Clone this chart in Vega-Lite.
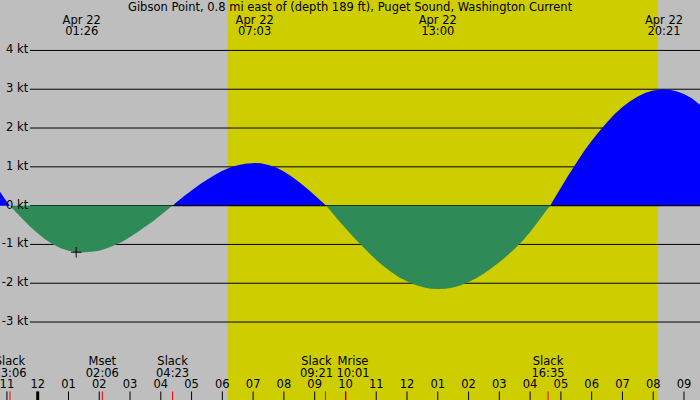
{
  "$schema": "https://vega.github.io/schema/vega-lite/v6.json",
  "width": 700,
  "height": 400,
  "autosize": {"type": "none"},
  "padding": 0,
  "background": "#bebebe",
  "config": {
    "view": {"stroke": null, "fill": "#bebebe"},
    "text": {"font": "DejaVu Sans", "fontSize": 11.5, "color": "#000000"}
  },
  "datasets": {
    "day": [{"sunrise": 6.17, "sunset": 20.15}],
    "grid": [
      {"kt": 4, "lab": "4 kt"},
      {"kt": 3, "lab": "3 kt"},
      {"kt": 2, "lab": "2 kt"},
      {"kt": 1, "lab": "1 kt"},
      {"kt": 0, "lab": "0 kt"},
      {"kt": -1, "lab": "-1 kt"},
      {"kt": -2, "lab": "-2 kt"},
      {"kt": -3, "lab": "-3 kt"}
    ],
    "zero": [
      {"from": 4.38, "to": 9.37},
      {"from": 16.65, "to": 21.52}
    ],
    "curve": [
      {"h": -1.225, "kt": 0.36, "seg": 0, "dir": "flood"},
      {"h": -1.05, "kt": 0.15, "seg": 0, "dir": "flood"},
      {"h": -0.9, "kt": 0, "seg": 0, "dir": "flood"},
      {"h": -0.9, "kt": 0, "seg": 1, "dir": "ebb"},
      {"h": -0.75, "kt": -0.13, "seg": 1, "dir": "ebb"},
      {"h": -0.5, "kt": -0.34, "seg": 1, "dir": "ebb"},
      {"h": -0.25, "kt": -0.54, "seg": 1, "dir": "ebb"},
      {"h": 0, "kt": -0.71, "seg": 1, "dir": "ebb"},
      {"h": 0.25, "kt": -0.87, "seg": 1, "dir": "ebb"},
      {"h": 0.5, "kt": -1.0, "seg": 1, "dir": "ebb"},
      {"h": 0.75, "kt": -1.1, "seg": 1, "dir": "ebb"},
      {"h": 1.0, "kt": -1.16, "seg": 1, "dir": "ebb"},
      {"h": 1.25, "kt": -1.2, "seg": 1, "dir": "ebb"},
      {"h": 1.43, "kt": -1.21, "seg": 1, "dir": "ebb"},
      {"h": 1.75, "kt": -1.19, "seg": 1, "dir": "ebb"},
      {"h": 2.0, "kt": -1.16, "seg": 1, "dir": "ebb"},
      {"h": 2.25, "kt": -1.1, "seg": 1, "dir": "ebb"},
      {"h": 2.5, "kt": -1.02, "seg": 1, "dir": "ebb"},
      {"h": 2.75, "kt": -0.93, "seg": 1, "dir": "ebb"},
      {"h": 3.0, "kt": -0.81, "seg": 1, "dir": "ebb"},
      {"h": 3.25, "kt": -0.68, "seg": 1, "dir": "ebb"},
      {"h": 3.5, "kt": -0.54, "seg": 1, "dir": "ebb"},
      {"h": 3.75, "kt": -0.4, "seg": 1, "dir": "ebb"},
      {"h": 4.0, "kt": -0.24, "seg": 1, "dir": "ebb"},
      {"h": 4.25, "kt": -0.08, "seg": 1, "dir": "ebb"},
      {"h": 4.38, "kt": 0, "seg": 1, "dir": "ebb"},
      {"h": 4.38, "kt": 0, "seg": 2, "dir": "flood"},
      {"h": 4.5, "kt": 0.08, "seg": 2, "dir": "flood"},
      {"h": 4.75, "kt": 0.24, "seg": 2, "dir": "flood"},
      {"h": 5.0, "kt": 0.39, "seg": 2, "dir": "flood"},
      {"h": 5.25, "kt": 0.54, "seg": 2, "dir": "flood"},
      {"h": 5.5, "kt": 0.67, "seg": 2, "dir": "flood"},
      {"h": 5.75, "kt": 0.79, "seg": 2, "dir": "flood"},
      {"h": 6.0, "kt": 0.9, "seg": 2, "dir": "flood"},
      {"h": 6.25, "kt": 0.98, "seg": 2, "dir": "flood"},
      {"h": 6.5, "kt": 1.04, "seg": 2, "dir": "flood"},
      {"h": 6.75, "kt": 1.08, "seg": 2, "dir": "flood"},
      {"h": 7.05, "kt": 1.1, "seg": 2, "dir": "flood"},
      {"h": 7.25, "kt": 1.09, "seg": 2, "dir": "flood"},
      {"h": 7.5, "kt": 1.05, "seg": 2, "dir": "flood"},
      {"h": 7.75, "kt": 0.98, "seg": 2, "dir": "flood"},
      {"h": 8.0, "kt": 0.88, "seg": 2, "dir": "flood"},
      {"h": 8.25, "kt": 0.75, "seg": 2, "dir": "flood"},
      {"h": 8.5, "kt": 0.6, "seg": 2, "dir": "flood"},
      {"h": 8.75, "kt": 0.44, "seg": 2, "dir": "flood"},
      {"h": 9.0, "kt": 0.27, "seg": 2, "dir": "flood"},
      {"h": 9.25, "kt": 0.09, "seg": 2, "dir": "flood"},
      {"h": 9.37, "kt": 0, "seg": 2, "dir": "flood"},
      {"h": 9.37, "kt": 0, "seg": 3, "dir": "ebb"},
      {"h": 9.5, "kt": -0.12, "seg": 3, "dir": "ebb"},
      {"h": 9.75, "kt": -0.36, "seg": 3, "dir": "ebb"},
      {"h": 10.0, "kt": -0.58, "seg": 3, "dir": "ebb"},
      {"h": 10.25, "kt": -0.8, "seg": 3, "dir": "ebb"},
      {"h": 10.5, "kt": -1.01, "seg": 3, "dir": "ebb"},
      {"h": 10.75, "kt": -1.21, "seg": 3, "dir": "ebb"},
      {"h": 11.0, "kt": -1.4, "seg": 3, "dir": "ebb"},
      {"h": 11.25, "kt": -1.57, "seg": 3, "dir": "ebb"},
      {"h": 11.5, "kt": -1.72, "seg": 3, "dir": "ebb"},
      {"h": 11.75, "kt": -1.85, "seg": 3, "dir": "ebb"},
      {"h": 12.0, "kt": -1.95, "seg": 3, "dir": "ebb"},
      {"h": 12.25, "kt": -2.04, "seg": 3, "dir": "ebb"},
      {"h": 12.5, "kt": -2.1, "seg": 3, "dir": "ebb"},
      {"h": 12.75, "kt": -2.14, "seg": 3, "dir": "ebb"},
      {"h": 13.0, "kt": -2.15, "seg": 3, "dir": "ebb"},
      {"h": 13.25, "kt": -2.14, "seg": 3, "dir": "ebb"},
      {"h": 13.5, "kt": -2.11, "seg": 3, "dir": "ebb"},
      {"h": 13.75, "kt": -2.05, "seg": 3, "dir": "ebb"},
      {"h": 14.0, "kt": -1.97, "seg": 3, "dir": "ebb"},
      {"h": 14.25, "kt": -1.87, "seg": 3, "dir": "ebb"},
      {"h": 14.5, "kt": -1.75, "seg": 3, "dir": "ebb"},
      {"h": 14.75, "kt": -1.61, "seg": 3, "dir": "ebb"},
      {"h": 15.0, "kt": -1.46, "seg": 3, "dir": "ebb"},
      {"h": 15.25, "kt": -1.29, "seg": 3, "dir": "ebb"},
      {"h": 15.5, "kt": -1.11, "seg": 3, "dir": "ebb"},
      {"h": 15.75, "kt": -0.91, "seg": 3, "dir": "ebb"},
      {"h": 16.0, "kt": -0.68, "seg": 3, "dir": "ebb"},
      {"h": 16.25, "kt": -0.42, "seg": 3, "dir": "ebb"},
      {"h": 16.5, "kt": -0.15, "seg": 3, "dir": "ebb"},
      {"h": 16.65, "kt": 0, "seg": 3, "dir": "ebb"},
      {"h": 16.65, "kt": 0, "seg": 4, "dir": "flood"},
      {"h": 16.75, "kt": 0.13, "seg": 4, "dir": "flood"},
      {"h": 17.0, "kt": 0.46, "seg": 4, "dir": "flood"},
      {"h": 17.25, "kt": 0.79, "seg": 4, "dir": "flood"},
      {"h": 17.5, "kt": 1.1, "seg": 4, "dir": "flood"},
      {"h": 17.75, "kt": 1.4, "seg": 4, "dir": "flood"},
      {"h": 18.0, "kt": 1.67, "seg": 4, "dir": "flood"},
      {"h": 18.25, "kt": 1.92, "seg": 4, "dir": "flood"},
      {"h": 18.5, "kt": 2.15, "seg": 4, "dir": "flood"},
      {"h": 18.75, "kt": 2.36, "seg": 4, "dir": "flood"},
      {"h": 19.0, "kt": 2.54, "seg": 4, "dir": "flood"},
      {"h": 19.25, "kt": 2.69, "seg": 4, "dir": "flood"},
      {"h": 19.5, "kt": 2.81, "seg": 4, "dir": "flood"},
      {"h": 19.75, "kt": 2.91, "seg": 4, "dir": "flood"},
      {"h": 20.0, "kt": 2.97, "seg": 4, "dir": "flood"},
      {"h": 20.35, "kt": 3.0, "seg": 4, "dir": "flood"},
      {"h": 20.5, "kt": 2.99, "seg": 4, "dir": "flood"},
      {"h": 20.75, "kt": 2.95, "seg": 4, "dir": "flood"},
      {"h": 21.0, "kt": 2.88, "seg": 4, "dir": "flood"},
      {"h": 21.25, "kt": 2.77, "seg": 4, "dir": "flood"},
      {"h": 21.52, "kt": 2.6, "seg": 4, "dir": "flood"}
    ],
    "maxes": [
      {"h": 1.43, "date": "Apr 22", "time": "01:26"},
      {"h": 7.05, "date": "Apr 22", "time": "07:03"},
      {"h": 13.0, "date": "Apr 22", "time": "13:00"},
      {"h": 20.35, "date": "Apr 22", "time": "20:21"}
    ],
    "events": [
      {"h": -0.9, "name": "Slack", "time": "23:06"},
      {"h": 2.1, "name": "Mset", "time": "02:06"},
      {"h": 4.383, "name": "Slack", "time": "04:23"},
      {"h": 9.35, "name": "Slack", "time": "09:21"},
      {"h": 10.017, "name": "Mrise", "time": "10:01"},
      {"h": 16.583, "name": "Slack", "time": "16:35"}
    ],
    "hours": [
      {"h": -1, "lab": "11"}, {"h": 0, "lab": "12"}, {"h": 1, "lab": "01"},
      {"h": 2, "lab": "02"}, {"h": 3, "lab": "03"}, {"h": 4, "lab": "04"},
      {"h": 5, "lab": "05"}, {"h": 6, "lab": "06"}, {"h": 7, "lab": "07"},
      {"h": 8, "lab": "08"}, {"h": 9, "lab": "09"}, {"h": 10, "lab": "10"},
      {"h": 11, "lab": "11"}, {"h": 12, "lab": "12"}, {"h": 13, "lab": "01"},
      {"h": 14, "lab": "02"}, {"h": 15, "lab": "03"}, {"h": 16, "lab": "04"},
      {"h": 17, "lab": "05"}, {"h": 18, "lab": "06"}, {"h": 19, "lab": "07"},
      {"h": 20, "lab": "08"}, {"h": 21, "lab": "09"}
    ],
    "now": [{"h": 1.25, "kt": -1.2}],
    "title": [{"h": 10.15, "text": "Gibson Point, 0.8 mi east of (depth 189 ft), Puget Sound, Washington Current"}]
  },
  "layer": [
    {
      "data": {"name": "day"},
      "mark": {"type": "rect", "color": "#cdcd00"},
      "encoding": {
        "x": {"field": "sunrise", "type": "quantitative", "axis": null,
              "scale": {"domain": [-1.225, 21.52], "nice": false, "zero": false}},
        "x2": {"field": "sunset"},
        "y": {"datum": 5.3, "type": "quantitative", "axis": null,
              "scale": {"domain": [-5.01, 5.3], "nice": false, "zero": false}},
        "y2": {"datum": -5.01}
      }
    },
    {
      "data": {"name": "grid"},
      "mark": {"type": "rule", "color": "#000000", "strokeWidth": 1},
      "encoding": {
        "x": {"datum": -0.25, "type": "quantitative"},
        "x2": {"datum": 21.52},
        "y": {"field": "kt", "type": "quantitative"}
      }
    },
    {
      "data": {"name": "curve"},
      "mark": {"type": "area", "opacity": 1},
      "encoding": {
        "x": {"field": "h", "type": "quantitative"},
        "y": {"field": "kt", "type": "quantitative", "stack": null},
        "y2": {"datum": 0},
        "detail": {"field": "seg", "type": "nominal"},
        "color": {"field": "dir", "type": "nominal", "legend": null,
                  "scale": {"domain": ["flood", "ebb"], "range": ["#0000ff", "#2e8b57"]}}
      }
    },
    {
      "data": {"name": "zero"},
      "mark": {"type": "rule", "color": "#000000", "strokeWidth": 1},
      "encoding": {
        "x": {"field": "from", "type": "quantitative"},
        "x2": {"field": "to"},
        "y": {"datum": 0, "type": "quantitative"}
      }
    },
    {
      "data": {"name": "now"},
      "mark": {"type": "point", "shape": "M-1,0H1M0,-1V1", "size": 110, "filled": false, "stroke": "#000000", "strokeWidth": 1, "opacity": 1},
      "encoding": {
        "x": {"field": "h", "type": "quantitative"},
        "y": {"field": "kt", "type": "quantitative"}
      }
    },
    {
      "data": {"name": "grid"},
      "mark": {"type": "text", "align": "right", "baseline": "middle"},
      "encoding": {
        "x": {"datum": -0.31, "type": "quantitative"},
        "y": {"field": "kt", "type": "quantitative"},
        "text": {"field": "lab"}
      }
    },
    {
      "data": {"name": "title"},
      "mark": {"type": "text", "align": "center", "baseline": "middle"},
      "encoding": {
        "x": {"field": "h", "type": "quantitative"},
        "y": {"datum": 5.09, "type": "quantitative"},
        "text": {"field": "text"}
      }
    },
    {
      "data": {"name": "maxes"},
      "mark": {"type": "text", "align": "center", "baseline": "middle"},
      "encoding": {
        "x": {"field": "h", "type": "quantitative"},
        "y": {"datum": 4.77, "type": "quantitative"},
        "text": {"field": "date"}
      }
    },
    {
      "data": {"name": "maxes"},
      "mark": {"type": "text", "align": "center", "baseline": "middle"},
      "encoding": {
        "x": {"field": "h", "type": "quantitative"},
        "y": {"datum": 4.48, "type": "quantitative"},
        "text": {"field": "time"}
      }
    },
    {
      "data": {"name": "hours"},
      "mark": {"type": "rule", "color": "#000000", "strokeWidth": 1},
      "encoding": {
        "x": {"field": "h", "type": "quantitative"},
        "y": {"datum": -4.79, "type": "quantitative"},
        "y2": {"datum": -5.01}
      }
    },
    {
      "data": {"name": "hours"},
      "transform": [{"filter": "datum.h == 0"}],
      "mark": {"type": "rule", "color": "#000000", "strokeWidth": 3},
      "encoding": {
        "x": {"field": "h", "type": "quantitative"},
        "y": {"datum": -4.79, "type": "quantitative"},
        "y2": {"datum": -5.01}
      }
    },
    {
      "data": {"name": "events"},
      "mark": {"type": "rule", "color": "#ff0000", "strokeWidth": 1},
      "encoding": {
        "x": {"field": "h", "type": "quantitative"},
        "y": {"datum": -4.79, "type": "quantitative"},
        "y2": {"datum": -5.01}
      }
    },
    {
      "data": {"name": "hours"},
      "mark": {"type": "text", "align": "center", "baseline": "middle"},
      "encoding": {
        "x": {"field": "h", "type": "quantitative"},
        "y": {"datum": -4.63, "type": "quantitative"},
        "text": {"field": "lab"}
      }
    },
    {
      "data": {"name": "events"},
      "transform": [{"filter": "datum.time != '09:21' && datum.time != '10:01'"}],
      "layer": [
        {
          "mark": {"type": "text", "align": "center", "baseline": "middle"},
          "encoding": {
            "x": {"field": "h", "type": "quantitative"},
            "y": {"datum": -4.03, "type": "quantitative"},
            "text": {"field": "name"}
          }
        },
        {
          "mark": {"type": "text", "align": "center", "baseline": "middle"},
          "encoding": {
            "x": {"field": "h", "type": "quantitative"},
            "y": {"datum": -4.33, "type": "quantitative"},
            "text": {"field": "time"}
          }
        }
      ]
    },
    {
      "data": {"name": "events"},
      "transform": [{"filter": "datum.time == '09:21'"}],
      "layer": [
        {
          "mark": {"type": "text", "align": "center", "baseline": "middle", "dx": -9},
          "encoding": {
            "x": {"field": "h", "type": "quantitative"},
            "y": {"datum": -4.03, "type": "quantitative"},
            "text": {"field": "name"}
          }
        },
        {
          "mark": {"type": "text", "align": "center", "baseline": "middle", "dx": -9},
          "encoding": {
            "x": {"field": "h", "type": "quantitative"},
            "y": {"datum": -4.33, "type": "quantitative"},
            "text": {"field": "time"}
          }
        }
      ]
    },
    {
      "data": {"name": "events"},
      "transform": [{"filter": "datum.time == '10:01'"}],
      "layer": [
        {
          "mark": {"type": "text", "align": "center", "baseline": "middle", "dx": 7},
          "encoding": {
            "x": {"field": "h", "type": "quantitative"},
            "y": {"datum": -4.03, "type": "quantitative"},
            "text": {"field": "name"}
          }
        },
        {
          "mark": {"type": "text", "align": "center", "baseline": "middle", "dx": 7},
          "encoding": {
            "x": {"field": "h", "type": "quantitative"},
            "y": {"datum": -4.33, "type": "quantitative"},
            "text": {"field": "time"}
          }
        }
      ]
    }
  ]
}
